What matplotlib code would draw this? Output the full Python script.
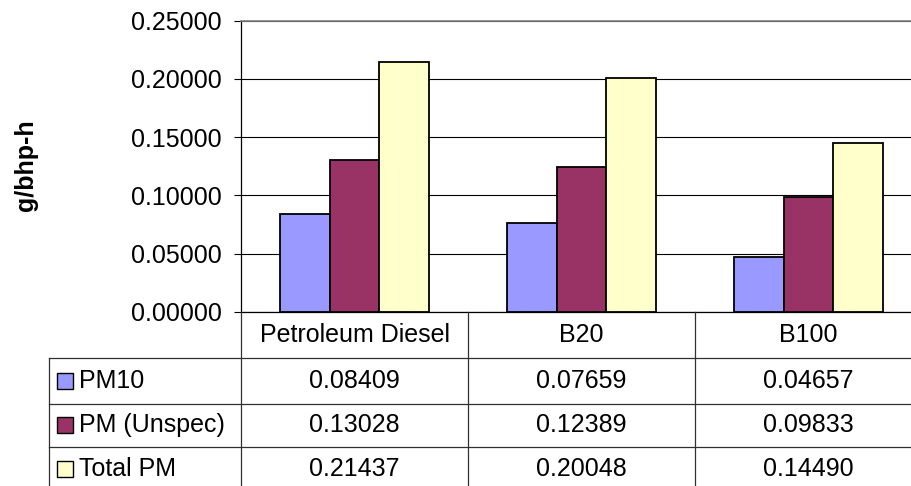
import matplotlib
matplotlib.use("Agg")
import matplotlib.pyplot as plt
from matplotlib.lines import Line2D
from matplotlib.patches import Rectangle
import numpy as np

categories = ["Petroleum Diesel", "B20", "B100"]
series_names = ["PM10", "PM (Unspec)", "Total PM"]
pm10 = [0.08409, 0.07659, 0.04657]
pm_unspec = [0.13028, 0.12389, 0.09833]
total_pm = [0.21437, 0.20048, 0.14490]
y_ticks = [0.0, 0.05, 0.10, 0.15, 0.20, 0.25]
y_label = "g/bhp-h"

series_values = [pm10, pm_unspec, total_pm]
colors = ["#9999FF", "#993366", "#FFFFCC"]

plt.rcParams["font.family"] = ["Liberation Sans", "DejaVu Sans"]
FS = 18

W, H = 912, 486
fig = plt.figure(figsize=(W / 100, H / 100), dpi=100)

def fx(px):
    return px / W

def fy(py):
    return 1 - py / H

ax_left, ax_top, ax_bottom = 241, 20.7, 311.7
cat_w = 227
ax = fig.add_axes([fx(ax_left), fy(ax_bottom), 3 * cat_w / W, (ax_bottom - ax_top) / H])

x = np.arange(len(categories))
bw = 0.22
for i, (vals, c) in enumerate(zip(series_values, colors)):
    ax.bar(x + (i - 1) * bw, vals, width=bw, color=c, edgecolor="black",
           linewidth=1.3, zorder=3)

ax.set_xlim(-0.5, len(categories) - 0.5)
ax.set_ylim(y_ticks[0], y_ticks[-1])
ax.set_yticks(y_ticks)
ax.yaxis.set_major_formatter(matplotlib.ticker.FormatStrFormatter("%.5f"))
ax.tick_params(axis="y", direction="out", length=5, width=0.8, pad=9,
               labelsize=FS, colors="black")
ax.set_xticks([])
ax.set_axisbelow(True)
ax.yaxis.grid(True, color="black", linewidth=0.8)
for s in ["right"]:
    ax.spines[s].set_visible(False)
ax.spines["top"].set_color("#808080")
ax.spines["top"].set_linewidth(1.2)
ax.spines["left"].set_color("black")
ax.spines["bottom"].set_color("black")
ax.spines["left"].set_linewidth(0.9)
ax.spines["bottom"].set_linewidth(0.9)

fig.text(fx(26), fy(165), y_label, rotation=90, ha="center", va="center",
         fontsize=FS, fontweight="bold")

# table
to_fig = ax.transData + fig.transFigure.inverted()
col_edges = [to_fig.transform((xi - 0.5, 0))[0] for xi in range(len(categories) + 1)]
col_centers = [to_fig.transform((xi, 0))[0] for xi in range(len(categories))]
row_edges = [ax_bottom, 357.5, 403.5, 447, 491]
tbl_left = 49
lc = "#303030"
lw = 0.9

# horizontal lines
for r in row_edges[1:]:
    fig.add_artist(Line2D([fx(tbl_left), 1.0], [fy(r), fy(r)], color=lc, lw=lw))
# vertical lines
fig.add_artist(Line2D([fx(tbl_left), fx(tbl_left)], [fy(row_edges[1]), 0], color=lc, lw=lw))
for ce in col_edges:
    fig.add_artist(Line2D([ce, ce], [fy(ax_bottom), 0], color=lc, lw=lw))

# header
hc = fy((row_edges[0] + row_edges[1]) / 2)
for cx, cat in zip(col_centers, categories):
    fig.text(cx, hc, cat, ha="center", va="center", fontsize=FS)

# rows
for ri, (name, vals, c) in enumerate(zip(series_names, series_values, colors)):
    yc = fy((row_edges[ri + 1] + row_edges[ri + 2]) / 2)
    sq = 16
    fig.add_artist(Rectangle((fx(57), yc - sq / 2 / H), sq / W, sq / H,
                             transform=fig.transFigure, facecolor=c,
                             edgecolor="black", linewidth=1.0))
    fig.text(fx(79), yc, name, ha="left", va="center", fontsize=FS)
    for cx, v in zip(col_centers, vals):
        fig.text(cx, yc, f"{v:.5f}", ha="center", va="center", fontsize=FS)

fig.savefig("out.png", dpi=100)
